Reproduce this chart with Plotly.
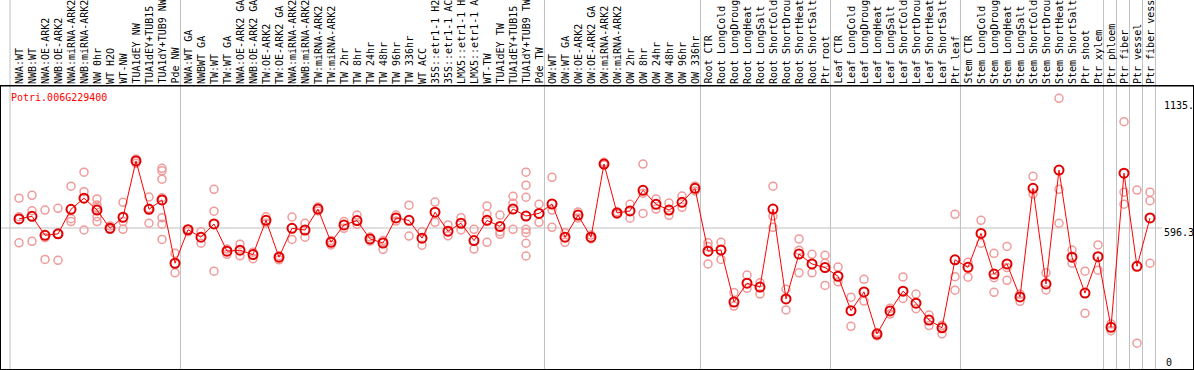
import plotly.graph_objects as go

# ---------------- data ----------------
gene_id = "Potri.006G229400"

categories = [
    # NW group
    "NWA:WT", "NWB:WT", "NWA:OE-ARK2", "NWB:OE-ARK2", "NWA:miRNA-ARK2", "NWB:miRNA-ARK2",
    "NW 0hr", "WT H2O", "WT-NW", "TUA1dEY NW", "TUA1dEY+TUB15 NW", "TUA1dY+TUB9 NW", "Pde NW",
    # GA / TW group
    "NWA:WT GA", "NWBWT GA", "TW:WT", "TW:WT GA", "NWA:OE-ARK2 GA", "NWB:OE-ARK2 GA",
    "TW:OE-ARK2", "TW:OE-ARK2 GA", "NWA:miRNA-ARK2 GA", "NWB:miRNA-ARK2 GA", "TW:miRNA-ARK2",
    "TW:miRNA-ARK2 GA", "TW 2hr", "TW 8hr", "TW 24hr", "TW 48hr", "TW 96hr", "TW 336hr",
    "WT ACC", "35S::etr1-1 H2O", "35S::etr1-1 ACC", "LMX5::etr1-1 H2O", "LMX5::etr1-1 ACC",
    "WT-TW", "TUA1dEY TW", "TUA1dEY+TUB15 TW", "TUA1dY+TUB9 TW", "Pde TW",
    # OW group
    "OW:WT", "OW:WT GA", "OW:OE-ARK2", "OW:OE-ARK2 GA", "OW:miRNA-ARK2", "OW:miRNA-ARK2 GA",
    "OW 2hr", "OW 8hr", "OW 24hr", "OW 48hr", "OW 96hr", "OW 336hr",
    # Root
    "Root CTR", "Root LongCold", "Root LongDrought", "Root LongHeat", "Root LongSalt",
    "Root ShortCold", "Root ShortDrought", "Root ShortHeat", "Root ShortSalt", "Ptr root",
    # Leaf
    "Leaf CTR", "Leaf LongCold", "Leaf LongDrought", "Leaf LongHeat", "Leaf LongSalt",
    "Leaf ShortCold", "Leaf ShortDrought", "Leaf ShortHeat", "Leaf ShortSalt", "Ptr leaf",
    # Stem
    "Stem CTR", "Stem LongCold", "Stem LongDrought", "Stem LongHeat", "Stem LongSalt",
    "Stem ShortCold", "Stem ShortDrought", "Stem ShortHeat", "Stem ShortSalt", "Ptr shoot", "Ptr xylem",
    # Ptr tissues
    "Ptr phloem", "Ptr fiber", "Ptr vessel", "Ptr fiber vessel",
]

main_values = [
    634, 645, 566, 572, 674, 720, 671, 595, 641, 875, 674, 713, 450,
    589, 558, 613, 500, 504, 486, 628, 475, 595, 588, 675, 537, 609, 627, 551, 534,
    638, 628, 554, 662, 583, 616, 544, 628, 603, 675, 646, 657,
    696, 558, 650, 558, 862, 659, 667, 753, 695, 671, 703, 761,
    500, 505, 289, 367, 351, 675, 302, 488, 447, 432,
    396, 253, 331, 156, 252, 334, 284, 214, 182, 464,
    433, 574, 405, 447, 310, 761, 364, 837, 475, 326, 477,
    184, 824, 437, 638,
]

replicate_values = [
    [720, 643, 535], [732, 668, 541], [671, 556, 466], [678, 572, 462], [770, 635, 623],
    [828, 747, 588], [717, 692, 681, 643, 623], [605, 591], [703, 623, 591], [883, 865],
    [725, 678, 616], [844, 834, 799, 722, 639, 612, 549], [491, 410],
    [591, 581], [581, 533], [757, 666, 417], [509, 487], [529, 481], [496, 469], [643, 616],
    [481, 464], [642, 549], [616, 558], [684, 667], [544, 526], [623, 595], [650, 612],
    [559, 542], [544, 508], [650, 625], [691, 563], [581, 525], [704, 620], [609, 564],
    [639, 588], [591, 509], [688, 653, 537], [650, 581, 570], [728, 699, 591],
    [828, 774, 724, 591, 577, 533, 480], [695, 620],
    [807, 671, 599], [577, 537], [663, 638], [551, 567], [869, 858], [664, 653], [695, 637],
    [862, 741, 657], [717, 675], [700, 649], [729, 682], [771, 750],
    [535, 519, 447], [537, 466], [328, 272], [401, 346], [369, 322], [770, 646, 599],
    [342, 256], [551, 504, 410], [487, 410], [483, 450, 358],
    [434, 373], [309, 188], [383, 293], [162, 148], [263, 239], [393, 304], [322, 261],
    [235, 191], [192, 157], [653, 394, 338],
    [454, 392], [628, 533], [491, 390, 329], [520, 432, 379], [292, 322], [811, 738],
    [410, 339], [1135, 757, 616], [505, 450], [417, 242], [526, 421],
    [198, 170], [1038, 745, 695], [754, 118], [745, 710, 450],
]

group_end_indices = [12, 40, 52, 62, 72, 83, 84, 85, 86, 87]
reference_value = 596.3
y_label_values = [1135.0, 596.3, 0.0]
y_label_texts = ["1135.", "596.3", "0"]
LABEL_MAX_CHARS = 14  # the header band only has room for 14 characters

# ---------------- layout geometry ----------------
W, H = 1194, 370
ML, MR, MT, MB = 1, 1, 86, 1
PLOT_W, PLOT_H = W - ML - MR, H - MT - MB
X_RANGE = [-1.3846, 90.308]
Y_RANGE = [10.8, 1186.0]

def px_to_paper_y(py):
    return (H - MB - py) / PLOT_H

def x_to_paper(xv):
    return (xv - X_RANGE[0]) / (X_RANGE[1] - X_RANGE[0])

def v_to_paper_y(v):
    return (v - Y_RANGE[0]) / (Y_RANGE[1] - Y_RANGE[0])

idx = list(range(len(categories)))

rep_x, rep_y = [], []
for i, reps in enumerate(replicate_values):
    for v in reps:
        rep_x.append(i)
        rep_y.append(v)

fig = go.Figure()

fig.add_trace(go.Scatter(
    x=rep_x, y=rep_y, mode="markers",
    marker=dict(symbol="circle-open", size=8, color="#f09a9a", line=dict(width=1.5, color="#f09a9a")),
    hoverinfo="skip", showlegend=False,
))
fig.add_trace(go.Scatter(
    x=idx, y=main_values, mode="lines+markers",
    line=dict(color="#ff0000", width=1),
    marker=dict(symbol="circle-open", size=9, color="#e00000", line=dict(width=2, color="#e00000")),
    showlegend=False,
))

shapes = []
sep_positions = [-0.69] + [e + 0.42 for e in group_end_indices]
for s in sep_positions:
    xp = x_to_paper(s)
    shapes.append(dict(type="line", xref="paper", yref="paper", x0=xp, x1=xp,
                       y0=px_to_paper_y(H), y1=px_to_paper_y(0),
                       line=dict(color="#c0c0c0", width=1), layer="below"))
shapes.append(dict(type="line", xref="paper", yref="y", x0=0, x1=(1162 - ML) / PLOT_W,
                   y0=reference_value, y1=reference_value,
                   line=dict(color="#c0c0c0", width=1), layer="below"))
shapes.append(dict(type="line", xref="paper", yref="paper", x0=-ML / PLOT_W, x1=(W) / PLOT_W,
                   y0=1, y1=1, line=dict(color="black", width=1)))

annotations = []
font = dict(family="DejaVu Sans Mono", size=10, color="black")
for i, lab in enumerate(categories):
    annotations.append(dict(
        x=i, xref="x", y=px_to_paper_y(85), yref="paper",
        text=lab[:LABEL_MAX_CHARS], textangle=-90, showarrow=False,
        xanchor="center", yanchor="bottom", font=font, borderpad=0,
    ))

annotations.append(dict(
    x=(10 - ML) / PLOT_W, xref="paper", y=px_to_paper_y(97), yref="paper",
    text=gene_id, showarrow=False, xanchor="left", yanchor="middle",
    font=dict(family="DejaVu Sans Mono", size=10, color="#ff0000"), borderpad=0,
))

y_shifts = [-7, -4.5, 9.5]
y_label_x = [1163, 1163, 1165]
for v, t, ys, lx in zip(y_label_values, y_label_texts, y_shifts, y_label_x):
    annotations.append(dict(
        x=(lx - ML) / PLOT_W, xref="paper", y=v_to_paper_y(v), yref="paper", yshift=ys,
        text=t, showarrow=False, xanchor="left", yanchor="middle", font=font, borderpad=0,
    ))

fig.update_layout(
    width=W, height=H, autosize=False,
    margin=dict(l=ML, r=MR, t=MT, b=MB, pad=0),
    paper_bgcolor="white", plot_bgcolor="white",
    xaxis=dict(range=X_RANGE, showgrid=False, zeroline=False, showticklabels=False, ticks="",
               showline=True, mirror=True, linecolor="black", linewidth=1, fixedrange=True),
    yaxis=dict(range=Y_RANGE, showgrid=False, zeroline=False, showticklabels=False, ticks="",
               showline=True, mirror=True, linecolor="black", linewidth=1, fixedrange=True),
    shapes=shapes, annotations=annotations,
    font=dict(family="DejaVu Sans Mono", size=10),
)

fig.write_html(
    "out.html",
    config={"displayModeBar": False},
    post_script="document.body.style.margin='0px';document.body.style.overflow='hidden';",
)
